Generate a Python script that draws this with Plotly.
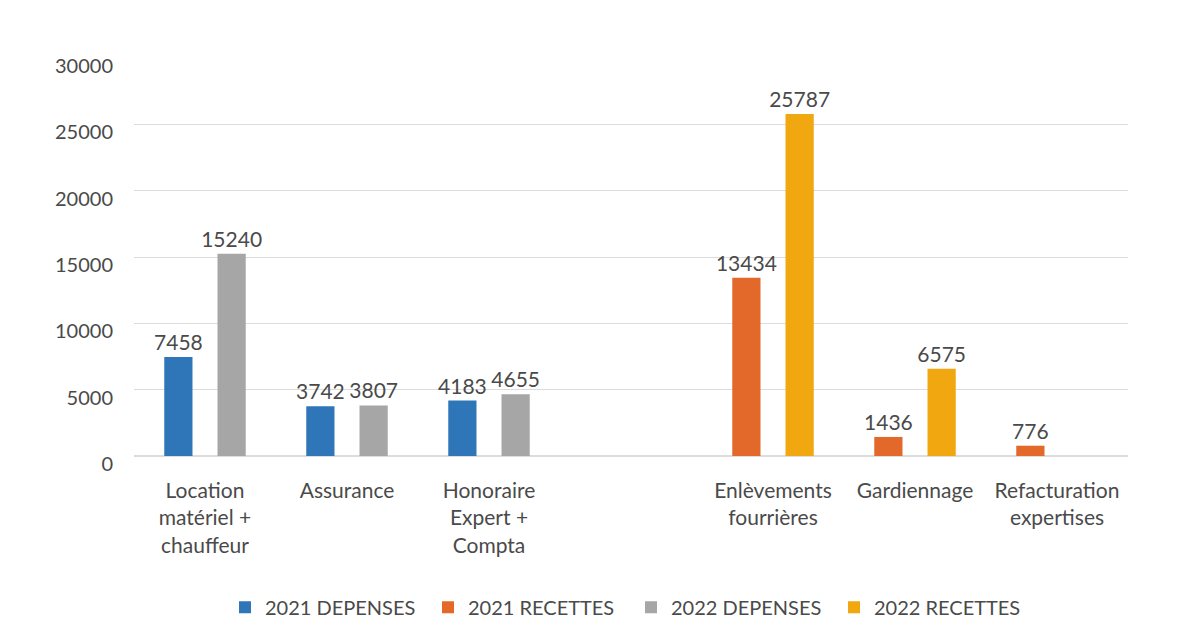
import plotly.graph_objects as go

categories = ["Location<br>matériel +<br>chauffeur", "Assurance", "Honoraire<br>Expert +<br>Compta", " ",
              "Enlèvements<br>fourrières", "Gardiennage", "Refacturation<br>expertises"]
dep_2021 = [7458, 3742, 4183, None, None, None, None]
rec_2021 = [None, None, None, None, 13434, 1436, 776]
dep_2022 = [15240, 3807, 4655, None, None, None, None]
rec_2022 = [None, None, None, None, 25787, 6575, None]

y_ticks = [0, 5000, 10000, 15000, 20000, 25000, 30000]

series = [
    ("2021 DEPENSES", dep_2021, "#2F76B8", "2021"),
    ("2021 RECETTES", rec_2021, "#E2692A", "2021"),
    ("2022 DEPENSES", dep_2022, "#A6A6A6", "2022"),
    ("2022 RECETTES", rec_2022, "#F1A70F", "2022"),
]

FONT = "Lato"
TXT = "#4a4a4a"

fig = go.Figure()
for name, vals, color, grp in series:
    fig.add_trace(go.Bar(
        x=categories, y=vals, name=name, offsetgroup=grp,
        marker=dict(color=color, line=dict(width=0)),
        text=[str(v) if v is not None else "" for v in vals],
        textposition="outside", cliponaxis=False, constraintext="none",
        textfont=dict(family=FONT, size=21, color=TXT),
    ))

fig.update_layout(
    width=1203, height=643,
    paper_bgcolor="white", plot_bgcolor="white",
    margin=dict(l=126, r=83, t=50, b=195),
    barmode="group", bargap=0.25, bargroupgap=0.47,
    font=dict(family=FONT, size=21, color=TXT),
    showlegend=True,
    legend=dict(orientation="h", x=0.5, xanchor="center", y=-0.38, yanchor="middle",
                font=dict(family=FONT, size=20, color=TXT), itemwidth=30,
                entrywidth=158, entrywidthmode="pixels",
                traceorder="normal"),
    xaxis=dict(showgrid=False, showline=False, ticks="", automargin=False,
               tickfont=dict(family=FONT, size=21, color=TXT), ticklabelstandoff=20),
    yaxis=dict(range=[0, 30000], tickvals=y_ticks, tickformat="d", showgrid=True,
               gridcolor="#DCDCDC", gridwidth=1, automargin=False,
               zeroline=True, zerolinecolor="#DCDCDC", showline=False,
               tickfont=dict(family=FONT, size=20, color=TXT), ticklabelstandoff=20,
               ticklabelshift=8),
)

fig.write_html("out.html")
